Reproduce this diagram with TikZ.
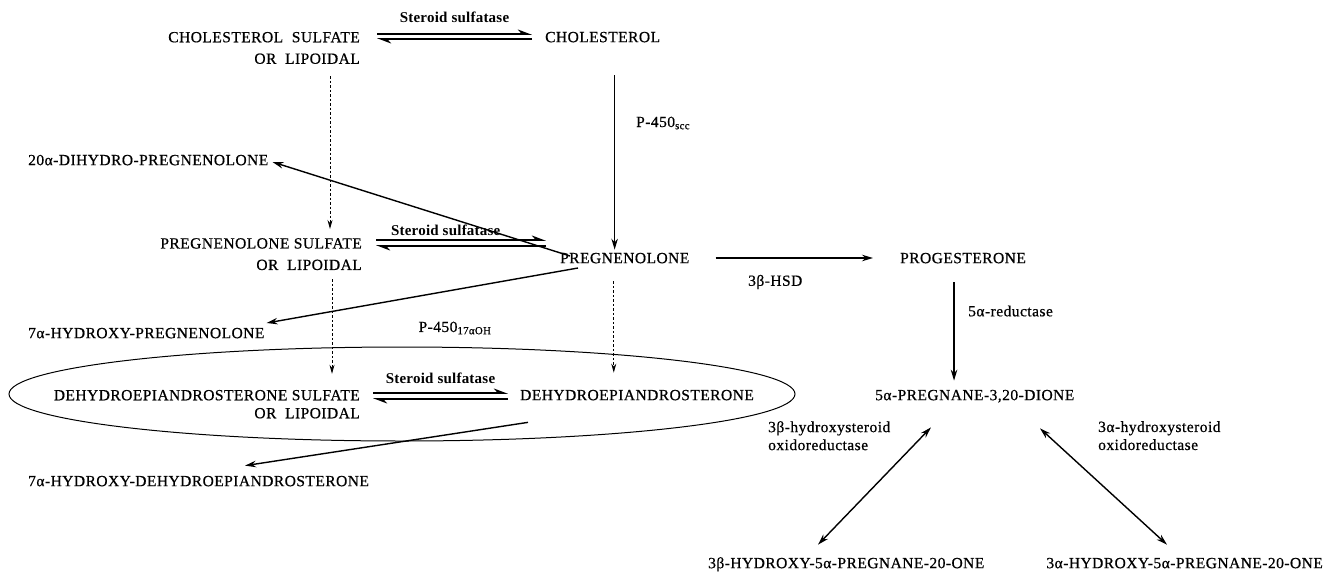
\documentclass[tikz,border=0pt]{standalone}
\usepackage{fontspec}
\setmainfont{Liberation Serif}[LetterSpace=3,FakeBold=0.6]
\newfontfamily\enzfont{Liberation Serif}[LetterSpace=1.5]
\usetikzlibrary{arrows.meta,shapes.geometric}
\begin{document}
\begin{tikzpicture}[x=1pt,y=-1pt,
  cmp/.style={inner sep=0pt, text height=10.3pt, text depth=0pt, anchor=west, font=\fontsize{15.5}{21.5}\selectfont},
  cmpm/.style={inner sep=0pt, align=right, anchor=north east, font=\fontsize{15.5}{21.5}\selectfont},
  lbl/.style={inner sep=0pt, font=\fontsize{15.5}{18}\selectfont},
  enz/.style={inner sep=0pt, font=\enzfont\bfseries\fontsize{15}{17}\selectfont},
  arr/.style={line width=1.4pt, -{Stealth[length=11pt,width=6.5pt]}},
  darr/.style={line width=1.4pt, {Stealth[length=11pt,width=6.5pt]}-{Stealth[length=11pt,width=6.5pt]}},
  dotarr/.style={line width=0.9pt, dash pattern=on 2.5pt off 2pt, -{Stealth[length=9pt,width=5pt]}},
  harp/.style={line width=1.6pt, -{Stealth[left,length=12pt,width=9pt]}},
]
\useasboundingbox (0,0) rectangle (1331,579);

% compounds
\node[cmpm] (cs) at (360,31.8) {CHOLESTEROL\ \ SULFATE\\OR\ \ LIPOIDAL};
\node[cmp] (chol) at (545,37) {CHOLESTEROL};
\node[cmp] (dh20) at (28,160) {20α-DIHYDRO-PREGNENOLONE};
\node[cmpm] (ps) at (362,238) {PREGNENOLONE SULFATE\\OR\ \ LIPOIDAL};
\node[cmp] (preg) at (560,258) {PREGNENOLONE};
\node[cmp] (prog) at (900,258) {PROGESTERONE};
\node[cmp] (hp7) at (28,333) {7α-HYDROXY-PREGNENOLONE};
\node[cmpm, font=\fontsize{15.5}{18}\selectfont] (dheas) at (360,389.8) {DEHYDROEPIANDROSTERONE SULFATE\\OR\ \ LIPOIDAL};
\node[cmp] (dhea) at (520,395) {DEHYDROEPIANDROSTERONE};
\node[cmp] (dione) at (875,395) {5α-PREGNANE-3,20-DIONE};
\node[cmp] (hd7) at (28,481) {7α-HYDROXY-DEHYDROEPIANDROSTERONE};
\node[cmp] (b3) at (708,563) {3β-HYDROXY-5α-PREGNANE-20-ONE};
\node[cmp, anchor=east] (a3) at (1323,563) {3α-HYDROXY-5α-PREGNANE-20-ONE};
\node[draw, ellipse, line width=1pt, minimum width=786pt, minimum height=94pt, inner sep=0pt] (box) at (402,394) {};

% enzyme labels
\node[lbl, anchor=west] (scc) at (636,123) {P-450\textsubscript{scc}};
\node[lbl] (p17) at (455,328) {P-450\textsubscript{17αOH}};
\node[lbl, anchor=west] (hsd) at (748,282) {3β-HSD};
\node[lbl, anchor=west] (red) at (968,311) {5α-reductase};
\node[lbl, anchor=north west, align=left] (l3b) at (768,421) {3β-hydroxysteroid\\oxidoreductase};
\node[lbl, anchor=north west, align=left] (l3a) at (1098,421) {3α-hydroxysteroid\\oxidoreductase};

% equilibria (steroid sulfatase)
\draw[harp] ([shift={(17pt,-2.2pt)}]cs.north east) -- node[enz, midway, above=11pt] (ss1) {Steroid sulfatase} ([shift={(-13pt,3pt)}]chol.west);
\draw[harp] ([shift={(-13pt,-2pt)}]chol.west) -- ([shift={(17pt,-7.2pt)}]cs.north east);

\draw[harp] ([shift={(14pt,-2pt)}]ps.north east) -- node[enz, pos=0.41, above=4pt] (ss2) {Steroid sulfatase} ([shift={(-14pt,18pt)}]preg.west);
\draw[harp] ([shift={(-14pt,12pt)}]preg.west) -- ([shift={(14pt,-8pt)}]ps.north east);

\draw[harp] ([shift={(13pt,-3.2pt)}]dheas.north east) -- node[enz, midway, above=9pt] (ss3) {Steroid sulfatase} ([shift={(-12pt,2pt)}]dhea.west);
\draw[harp] ([shift={(-12pt,-4pt)}]dhea.west) -- ([shift={(13pt,-9.2pt)}]dheas.north east);

% solid arrows
\draw[arr] ([shift={(12pt,-33pt)}]chol.south) coordinate (t1) -- ([yshift=3pt]t1 |- preg.north);
\draw[arr] ([shift={(10pt,2pt)}]preg.west) -- ([shift={(4pt,-2pt)}]dh20.east);
\draw[arr] ([shift={(18pt,-10pt)}]preg.west) -- ([shift={(2pt,10pt)}]hp7.east);
\draw[arr] ([xshift=26pt]preg.east) -- ([xshift=-27pt]prog.west);
\draw[arr] ([shift={(-9pt,-19pt)}]prog.south) coordinate (t2) -- ([yshift=9pt]t2 |- dione.north);
\draw[arr] ([shift={(8pt,-22pt)}]dhea.south west) -- ([shift={(217pt,10pt)}]hd7.north west);
\draw[darr] ([shift={(56pt,-27pt)}]dione.south west) -- ([shift={(110pt,13pt)}]b3.north west);
\draw[darr] ([shift={(165pt,-28pt)}]dione.south west) -- ([shift={(-156pt,13pt)}]a3.north east);

% dotted arrows
\draw[dotarr] ([shift={(-30pt,-12pt)}]cs.south east) coordinate (d1) -- ([yshift=9pt]d1 |- ps.north);
\draw[dotarr] ([shift={(-30pt,-9pt)}]ps.south east) coordinate (d2) -- ([yshift=16pt]d2 |- dheas.north);
\draw[dotarr] ([shift={(-11pt,-18pt)}]preg.south) coordinate (d3) -- ([yshift=17pt]d3 |- dhea.north);
\end{tikzpicture}
\end{document}
